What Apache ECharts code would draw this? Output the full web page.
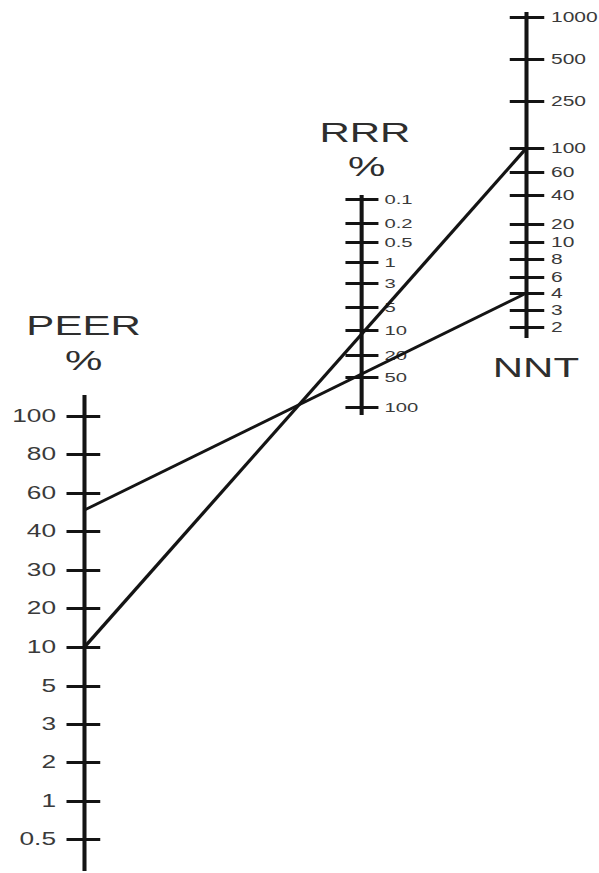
<!DOCTYPE html>
<html>
<head>
<meta charset="utf-8">
<script src="https://cdn.jsdelivr.net/npm/echarts@6/dist/echarts.min.js"></script>
<style>
html, body { margin: 0; padding: 0; background: #fff; overflow: hidden; width: 599px; height: 873px; }
#chart { width: 399.333px; height: 873px; transform: scaleX(1.5); transform-origin: 0 0; }
</style>
</head>
<body>
<div id="chart"></div>
<script>
// ---- Nomogram data (graduations of each scale) ----
const peerTicks = ['100', '80', '60', '40', '30', '20', '10', '5', '3', '2', '1', '0.5'];
const peerPos   = [416, 454.5, 493, 531, 570, 608, 647, 686, 724, 762.5, 801, 839];
const peerExtent = [395, 871];

const rrrTicks = ['0.1', '0.2', '0.5', '1', '3', '5', '10', '20', '50', '100'];
const rrrPos   = [199, 223, 242, 262, 283, 307, 330, 355, 377, 407];
const rrrExtent = [195, 415];

const nntTicks = ['1000', '500', '250', '100', '60', '40', '20', '10', '8', '6', '4', '3', '2'];
const nntPos   = [17, 59, 101, 148, 172, 195, 224, 242, 259, 277, 293, 310, 327];
const nntExtent = [12, 338];

// worked examples: PEER value -> NNT value (straight line through RRR)
const examplePeer = [10, 50];
const exampleNnt  = [100, 4];

// ---- layout ----
const STRETCH = 1.5;
const W = 599 / STRETCH;
const H = 873;
const gridLeft = 56.33, gridRight = 48;
const gridW = W - gridLeft - gridRight;
const FRAC = { peer: 0, rrr: 0.627, nnt: 1 };
const INK = '#141414';
const FONT = '"Liberation Sans", Arial, sans-serif';

function posOn(ticks, pos, v) {
  const vals = ticks.map(Number);
  for (let i = 0; i < vals.length; i++) if (vals[i] === v) return pos[i];
  for (let i = 0; i < vals.length - 1; i++) {
    const a = vals[i], b = vals[i + 1];
    if ((v - a) * (v - b) < 0) {
      const t = (Math.log(v) - Math.log(a)) / (Math.log(b) - Math.log(a));
      return pos[i] + t * (pos[i + 1] - pos[i]);
    }
  }
  return pos[0];
}

function scaleAxes(ticks, pos, frac, tickOut, tickIn, label) {
  const fmt = (val) => {
    let best = 0;
    for (let i = 1; i < pos.length; i++) if (Math.abs(pos[i] - val) < Math.abs(pos[best] - val)) best = i;
    return ticks[best];
  };
  const base = {
    type: 'value', min: 0, max: H, inverse: true, position: 'left',
    offset: -frac * gridW,
    axisLine: { show: false, onZero: false },
    splitLine: { show: false },
    splitArea: { show: false }
  };
  return [
    Object.assign({}, base, {
      axisTick: { show: true, customValues: pos, length: tickOut, inside: false,
        lineStyle: { color: INK, width: 3 } },
      axisLabel: label.inside ? { show: false } : {
        show: true, customValues: pos, formatter: fmt, inside: false,
        margin: label.margin, fontSize: label.size, color: '#3a3a3a', fontFamily: FONT
      }
    }),
    Object.assign({}, base, {
      axisTick: { show: true, customValues: pos, length: tickIn, inside: true,
        lineStyle: { color: INK, width: 3 } },
      axisLabel: label.inside ? {
        show: true, customValues: pos, formatter: fmt, inside: true,
        margin: label.margin, fontSize: label.size, color: '#3a3a3a', fontFamily: FONT
      } : { show: false }
    })
  ];
}

const yAxes = [].concat(
  scaleAxes(peerTicks, peerPos, FRAC.peer, 12, 10.5, { inside: false, margin: 19, size: 17.5 }),
  scaleAxes(rrrTicks, rrrPos, FRAC.rrr, 11, 11, { inside: true, margin: 15, size: 13.5 }),
  scaleAxes(nntTicks, nntPos, FRAC.nnt, 11.5, 11.5, { inside: true, margin: 16, size: 14 })
);

function scaleLine(frac, ext) {
  return {
    type: 'line', silent: true, symbol: 'none', z: 1,
    data: [[frac, ext[0]], [frac, ext[1]]],
    lineStyle: { color: INK, width: 2.7, cap: 'butt' }
  };
}

const exampleSeries = examplePeer.map((p, i) => ({
  type: 'line', silent: true, symbol: 'none', z: 5,
  data: [[FRAC.peer, posOn(peerTicks, peerPos, p)], [FRAC.nnt, posOn(nntTicks, nntPos, exampleNnt[i])]],
  lineStyle: { color: INK, width: 2.5 }
}));

function title(text, x, y) {
  return { type: 'text', x: x, y: y, z: 10,
    style: { text: text, fill: '#2e2e2e', font: '28px ' + FONT,
      align: 'center', verticalAlign: 'middle', textAlign: 'center', textVerticalAlign: 'middle' } };
}

const chart = echarts.init(document.getElementById('chart'), null, { renderer: 'svg' });
chart.setOption({
  animation: false,
  backgroundColor: '#fff',
  grid: { left: gridLeft, right: gridRight, top: 0, bottom: 0, containLabel: false, outerBoundsMode: 'none' },
  xAxis: { type: 'value', min: 0, max: 1, show: false },
  yAxis: yAxes,
  series: [
    scaleLine(FRAC.peer, peerExtent),
    scaleLine(FRAC.rrr, rrrExtent),
    scaleLine(FRAC.nnt, nntExtent)
  ].concat(exampleSeries),
  graphic: [
    title('PEER', 55.7, 326),
    title('%', 55.7, 361),
    title('RRR', 243.3, 133),
    title('%', 244.5, 167),
    title('NNT', 357.3, 368)
  ]
});
</script>
</body>
</html>
